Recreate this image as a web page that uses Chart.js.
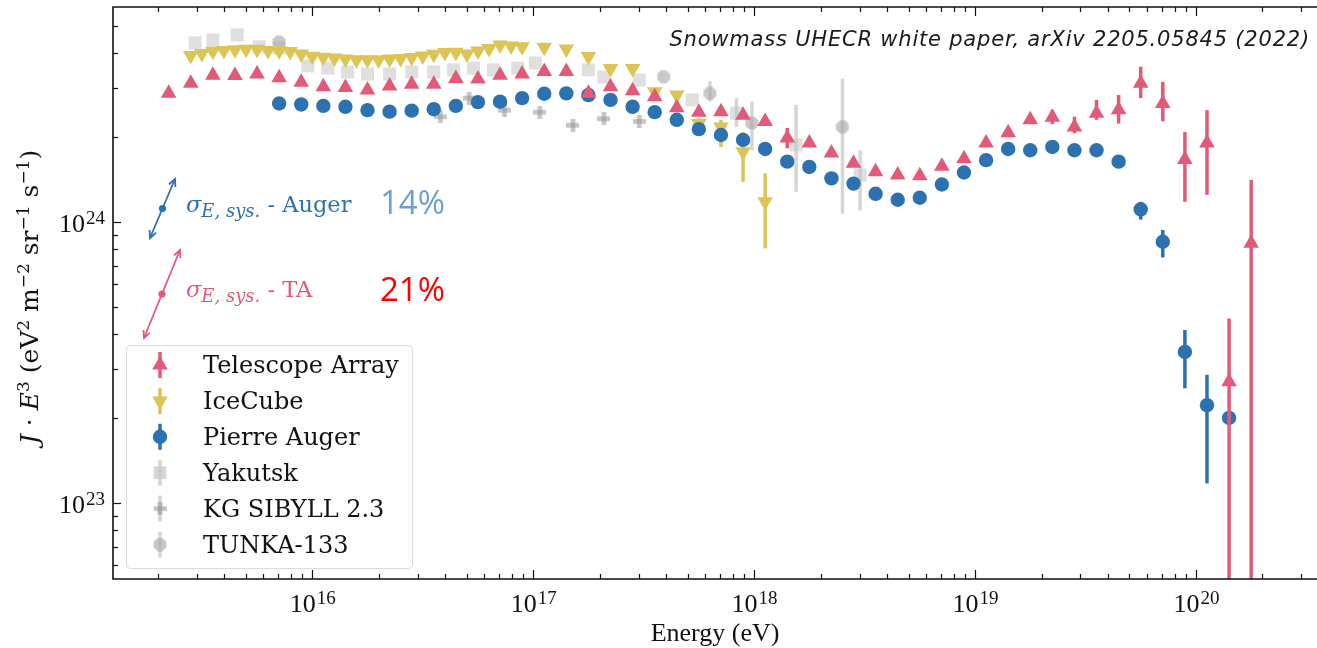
<!DOCTYPE html>
<html>
<head>
<meta charset="utf-8">
<title>UHECR energy spectrum</title>
<script src="https://cdn.jsdelivr.net/npm/chart.js@4.4.1/dist/chart.umd.min.js"></script>
<style>
  html, body { margin: 0; padding: 0; background: #fff; }
  canvas { display: block; }
</style>
</head>
<body>
<canvas id="spectrumChart" width="1317" height="648"></canvas>
<script>
// Energies are log10(E / eV); flux is J*E^3 in units of 1e24 eV^2 m^-2 sr^-1 s^-1

// Telescope Array
const taLogE = [15.35, 15.45, 15.55, 15.65, 15.75, 15.85, 15.95, 16.05, 16.15, 16.25,
                16.35, 16.45, 16.55, 16.65, 16.75, 16.85, 16.95, 17.05, 17.15, 17.25,
                17.35, 17.45, 17.55, 17.65, 17.75, 17.85, 17.95, 18.05, 18.15, 18.25,
                18.35, 18.45, 18.55, 18.65, 18.75, 18.85, 18.95, 19.05, 19.15, 19.25,
                19.35, 19.45, 19.55, 19.65, 19.75, 19.85, 19.95, 20.05, 20.15, 20.25];
const taFlux = [2.87, 3.12, 3.33, 3.32, 3.36, 3.26, 3.14, 3.03, 3.01, 2.95,
                3.05, 3.09, 3.09, 3.24, 3.23, 3.33, 3.36, 3.43, 3.43, 2.87,
                3.03, 2.93, 2.79, 2.55, 2.46, 2.47, 2.40, 2.28, 1.99, 1.91,
                1.76, 1.62, 1.51, 1.47, 1.46, 1.58, 1.68, 1.91, 2.08, 2.31,
                2.36, 2.18, 2.44, 2.51, 3.12, 2.64, 1.67, 1.91, 0.27, 0.84];
const taErrLogE = [18.15, 19.35, 19.45, 19.55, 19.65, 19.75, 19.85, 19.95, 20.05, 20.15, 20.25];
const taErrLo   = [1.83, 2.23, 2.07, 2.31, 2.24, 2.76, 2.28, 1.18, 1.25, 0.01, 0.01];
const taErrHi   = [2.16, 2.50, 2.37, 2.72, 2.83, 3.57, 3.15, 2.09, 2.50, 0.454, 1.41];

// Pierre Auger
const augerLogE = [15.85, 15.95, 16.05, 16.15, 16.25, 16.35, 16.45, 16.55, 16.65, 16.75,
                   16.85, 16.95, 17.05, 17.15, 17.25, 17.35, 17.45, 17.55, 17.65, 17.75,
                   17.85, 17.95, 18.05, 18.15, 18.25, 18.35, 18.45, 18.55, 18.65, 18.75,
                   18.85, 18.95, 19.05, 19.15, 19.25, 19.35, 19.45, 19.55, 19.65, 19.75,
                   19.85, 19.95, 20.05, 20.15];
const augerFlux = [2.64, 2.62, 2.59, 2.57, 2.50, 2.47, 2.49, 2.52, 2.59, 2.67,
                   2.68, 2.76, 2.86, 2.87, 2.83, 2.72, 2.57, 2.46, 2.31, 2.14,
                   2.04, 1.96, 1.82, 1.64, 1.57, 1.43, 1.37, 1.26, 1.20, 1.22,
                   1.36, 1.50, 1.66, 1.82, 1.80, 1.85, 1.80, 1.80, 1.64, 1.11,
                   0.851, 0.345, 0.223, 0.201];
const augerErrLogE = [19.75, 19.85, 19.95, 20.05];
const augerErrLo   = [1.02, 0.748, 0.256, 0.1175];
const augerErrHi   = [1.18, 0.937, 0.413, 0.286];

// IceCube (IceTop)
const iceLogE = [15.45, 15.50, 15.55, 15.60, 15.65, 15.70, 15.75, 15.80, 15.85, 15.90,
                 15.95, 16.00, 16.05, 16.10, 16.15, 16.20, 16.25, 16.30, 16.35, 16.40,
                 16.45, 16.50, 16.55, 16.60, 16.65, 16.70, 16.75, 16.80, 16.85, 16.90,
                 16.95, 17.05, 17.15, 17.25, 17.35, 17.45, 17.55, 17.65, 17.75, 17.85,
                 17.95, 18.05];
const iceFlux = [3.91, 3.98, 4.05, 4.08, 4.10, 4.12, 4.12, 4.08, 4.07, 4.04,
                 3.96, 3.89, 3.86, 3.83, 3.80, 3.78, 3.78, 3.78, 3.80, 3.82,
                 3.85, 3.90, 3.95, 4.01, 4.02, 3.96, 4.06, 4.14, 4.26, 4.23,
                 4.20, 4.19, 4.13, 3.88, 3.52, 3.52, 2.91, 2.83, 2.24, 2.18,
                 1.78, 1.18];
const iceErrLogE = [17.75, 17.85, 17.95, 18.05];
const iceErrLo   = [2.09, 1.85, 1.39, 0.806];
const iceErrHi   = [2.34, 2.31, 2.09, 1.49];

// Yakutsk
const yakLogE = [15.47, 15.55, 15.66, 15.76, 15.85, 15.98, 16.07, 16.16, 16.25, 16.35,
                 16.45, 16.55, 16.64, 16.73, 16.82, 16.93, 17.01, 17.25, 17.32, 17.48,
                 17.72, 17.92, 18.19, 18.48];
const yakFlux = [4.34, 4.44, 4.63, 4.20, 4.16, 3.59, 3.53, 3.42, 3.36, 3.36,
                 3.42, 3.42, 3.48, 3.53, 3.48, 3.53, 3.68, 3.48, 3.28, 3.20,
                 2.72, 2.44, 1.88, 1.47];
const yakErrLogE = [17.92, 18.19, 18.48];
const yakErrLo   = [2.18, 1.28, 1.10];
const yakErrHi   = [2.76, 2.61, 1.80];

// KG SIBYLL 2.3
const kgLogE = [16.58, 16.71, 16.87, 17.03, 17.18, 17.32, 17.48];
const kgFlux = [2.37, 2.76, 2.50, 2.46, 2.21, 2.33, 2.28];

// TUNKA-133
const tunkaLogE = [15.85, 17.59, 17.80, 17.99, 18.40];
const tunkaFlux = [4.37, 3.29, 2.87, 2.25, 2.18];
const tunkaErrLogE = [17.80, 17.99, 18.40];
const tunkaErrLo   = [2.68, 1.80, 1.07];
const tunkaErrHi   = [3.17, 2.68, 3.24];

// axes
const xLogRange = [15.098, 20.548];
const yLogRange = [22.73, 24.765];
const xTickPowers = [16, 17, 18, 19, 20];
const yTickPowers = [23, 24];

const RED = '#e25a78';
const YELLOW = '#dcc455';
const BLUE = '#2d72b0';
const GREY_BAR = 'rgba(200,200,200,0.75)';

const toPoints = (logE, flux) => logE.map((e, i) => ({ x: 10 ** e, y: flux[i] * 1e24 }));
const toErrors = (logE, lo, hi) => logE.map((e, i) => ({ x: 10 ** e, lo: lo[i] * 1e24, hi: hi[i] * 1e24 }));

function markerCanvas(size, draw) {
    const c = document.createElement('canvas');
    c.width = c.height = size;
    draw(c.getContext('2d'), size);
    return c;
}

// filled plus, the overlap makes the centre a bit darker
const plusMarker = markerCanvas(13, (g, s) => {
    g.fillStyle = 'rgba(150,150,150,0.55)';
    g.fillRect(s * 0.32, 0, s * 0.36, s);
    g.fillRect(0, s * 0.32, s, s * 0.36);
});

const octMarker = markerCanvas(14, (g, s) => {
    g.fillStyle = 'rgba(165,165,165,0.6)';
    g.beginPath();
    for (let k = 0; k < 8; k++) {
        const a = Math.PI / 8 + k * Math.PI / 4;
        g.lineTo(s / 2 + s / 2 * Math.cos(a), s / 2 + s / 2 * Math.sin(a));
    }
    g.fill();
});

const series = [
    { label: 'Telescope Array', data: toPoints(taLogE, taFlux), errors: toErrors(taErrLogE, taErrLo, taErrHi),
      errColor: RED, errWidth: 3.5, pointStyle: 'triangle', pointRadius: 9, pointRotation: 0, backgroundColor: RED },
    { label: 'Pierre Auger', data: toPoints(augerLogE, augerFlux), errors: toErrors(augerErrLogE, augerErrLo, augerErrHi),
      errColor: BLUE, errWidth: 3.5, pointStyle: 'circle', pointRadius: 7.2, pointRotation: 0, backgroundColor: BLUE },
    { label: 'IceCube', data: toPoints(iceLogE, iceFlux), errors: toErrors(iceErrLogE, iceErrLo, iceErrHi),
      errColor: YELLOW, errWidth: 3.5, pointStyle: 'triangle', pointRadius: 9, pointRotation: 180, backgroundColor: YELLOW },
    { label: 'TUNKA-133', data: toPoints(tunkaLogE, tunkaFlux), errors: toErrors(tunkaErrLogE, tunkaErrLo, tunkaErrHi),
      errColor: GREY_BAR, errWidth: 3.5, pointStyle: octMarker, pointRadius: 7, pointRotation: 0, backgroundColor: '#bbb' },
    { label: 'KG SIBYLL 2.3', data: toPoints(kgLogE, kgFlux), errors: [],
      errColor: GREY_BAR, errWidth: 3.5, pointStyle: plusMarker, pointRadius: 7, pointRotation: 0, backgroundColor: '#bbb' },
    { label: 'Yakutsk', data: toPoints(yakLogE, yakFlux), errors: toErrors(yakErrLogE, yakErrLo, yakErrHi),
      errColor: GREY_BAR, errWidth: 3.5, pointStyle: 'rect', pointRadius: 9.2, pointRotation: 0, backgroundColor: 'rgba(196,196,196,0.55)' }
];

// legend entries in display order
const legendItems = [
    { label: 'Telescope Array', color: RED, style: 'triangle', radius: 9, rotation: 0, bar: RED },
    { label: 'IceCube', color: YELLOW, style: 'triangle', radius: 9, rotation: 180, bar: YELLOW },
    { label: 'Pierre Auger', color: BLUE, style: 'circle', radius: 7.2, rotation: 0, bar: BLUE },
    { label: 'Yakutsk', color: 'rgba(196,196,196,0.7)', style: 'rect', radius: 9, rotation: 0, bar: GREY_BAR },
    { label: 'KG SIBYLL 2.3', color: '#bbb', style: plusMarker, radius: 7, rotation: 0, bar: GREY_BAR },
    { label: 'TUNKA-133', color: '#bbb', style: octMarker, radius: 7, rotation: 0, bar: GREY_BAR }
];

// vertical error bars, drawn just under each series' markers
const errorBars = {
    id: 'errorBars',
    beforeDatasetDraw(chart, args) {
        const ds = chart.data.datasets[args.index];
        if (!ds.errors || !ds.errors.length) return;
        const { ctx, chartArea: a, scales: { x, y } } = chart;
        ctx.save();
        ctx.beginPath();
        ctx.rect(a.left, a.top, a.right - a.left, a.bottom - a.top);
        ctx.clip();
        ctx.strokeStyle = ds.errColor;
        ctx.lineWidth = ds.errWidth;
        ds.errors.forEach(e => {
            const px = x.getPixelForValue(e.x);
            ctx.beginPath();
            ctx.moveTo(px, y.getPixelForValue(e.lo));
            ctx.lineTo(px, y.getPixelForValue(e.hi));
            ctx.stroke();
        });
        ctx.restore();
    }
};

// draws a run of text pieces: [text, kind] where kind is '', 'i', 'sup', 'isub'
function richText(ctx, parts, x, y, size, family, align, small = 0.68) {
    const fontOf = kind => {
        const isSmall = kind === 'sup' || kind === 'isub';
        const italic = kind === 'i' || kind === 'isub';
        return `${italic ? 'italic ' : ''}${isSmall ? Math.round(size * small) : size}px ${family}`;
    };
    const widths = parts.map(([t, k]) => { ctx.font = fontOf(k); return ctx.measureText(t).width; });
    const total = widths.reduce((s, w) => s + w, 0);
    let cx = align === 'center' ? x - total / 2 : align === 'right' ? x - total : x;
    ctx.textAlign = 'left';
    ctx.textBaseline = 'alphabetic';
    parts.forEach(([t, k], i) => {
        ctx.font = fontOf(k);
        let dy = 0;
        if (k === 'sup') dy = -size * 0.38;
        if (k === 'isub') dy = size * 0.22;
        ctx.fillText(t, cx, y + dy);
        cx += widths[i];
    });
    return total;
}

function powerLabel(ctx, p, x, y, align) {
    ctx.font = '26px "Liberation Serif"';
    const wb = ctx.measureText('10').width;
    ctx.font = '19px "Liberation Serif"';
    const we = ctx.measureText(String(p)).width;
    const left = align === 'right' ? x - wb - we : x - (wb + we) / 2;
    ctx.textAlign = 'left';
    ctx.textBaseline = 'alphabetic';
    ctx.fillStyle = '#111';
    ctx.font = '26px "Liberation Serif"';
    ctx.fillText('10', left, y);
    ctx.font = '19px "Liberation Serif"';
    ctx.fillText(String(p), left + wb + 1, y - 8);
}

function doubleArrow(ctx, x1, y1, x2, y2, color) {
    ctx.strokeStyle = color;
    ctx.fillStyle = color;
    ctx.lineWidth = 1.8;
    ctx.beginPath();
    ctx.moveTo(x1, y1);
    ctx.lineTo(x2, y2);
    ctx.stroke();
    const ang = Math.atan2(y2 - y1, x2 - x1);
    [[x2, y2, ang], [x1, y1, ang + Math.PI]].forEach(([hx, hy, a]) => {
        ctx.beginPath();
        ctx.moveTo(hx - 8 * Math.cos(a - 0.45), hy - 8 * Math.sin(a - 0.45));
        ctx.lineTo(hx, hy);
        ctx.lineTo(hx - 8 * Math.cos(a + 0.45), hy - 8 * Math.sin(a + 0.45));
        ctx.stroke();
    });
    ctx.beginPath();
    ctx.arc((x1 + x2) / 2, (y1 + y2) / 2, 3.6, 0, Math.PI * 2);
    ctx.fill();
}

const frame = {
    id: 'frame',
    afterDraw(chart) {
        const { ctx, chartArea: a, scales: { x, y } } = chart;
        const right = chart.width;
        ctx.save();

        // minor and major ticks, pointing inwards
        ctx.strokeStyle = '#111';
        ctx.lineWidth = 1.2;
        for (let p = 15; p <= 20; p++) {
            for (let m = 1; m <= 9; m++) {
                const px = Math.round(x.getPixelForValue(m * 10 ** p)) + 0.5;
                if (px < a.left + 2 || px > right) continue;
                const len = m === 1 ? 9 : 5;
                ctx.beginPath();
                ctx.moveTo(px, a.bottom); ctx.lineTo(px, a.bottom - len);
                ctx.moveTo(px, a.top); ctx.lineTo(px, a.top + len);
                ctx.stroke();
            }
        }
        for (let p = 22; p <= 24; p++) {
            for (let m = 1; m <= 9; m++) {
                const py = Math.round(y.getPixelForValue(m * 10 ** p)) + 0.5;
                if (py < a.top + 2 || py > a.bottom - 2) continue;
                const len = m === 1 ? 8 : 5;
                ctx.beginPath();
                ctx.moveTo(a.left, py); ctx.lineTo(a.left + len, py);
                ctx.stroke();
            }
        }

        // spines: left, top and bottom
        ctx.lineWidth = 1.6;
        ctx.beginPath();
        ctx.moveTo(right, a.top);
        ctx.lineTo(a.left, a.top);
        ctx.lineTo(a.left, a.bottom);
        ctx.lineTo(right, a.bottom);
        ctx.stroke();

        xTickPowers.forEach(p => powerLabel(ctx, p, x.getPixelForValue(10 ** p), a.bottom + 33, 'center'));
        yTickPowers.forEach(p => powerLabel(ctx, p, a.left - 9, y.getPixelForValue(10 ** p) + 10, 'right'));

        // axis titles
        ctx.fillStyle = '#111';
        ctx.font = '26px "Liberation Serif"';
        ctx.textAlign = 'center';
        ctx.fillText('Energy (eV)', 715, 641);

        ctx.save();
        ctx.translate(38, 297);
        ctx.rotate(-Math.PI / 2);
        richText(ctx, [['J', 'i'], [' · ', ''], ['E', 'i'], ['3', 'sup'], [' (eV', ''], ['2', 'sup'],
                       [' m', ''], ['−2', 'sup'], [' sr', ''], ['−1', 'sup'], [' s', ''], ['−1', 'sup'], [')', '']],
                 0, 0, 25, '"DejaVu Serif"', 'center');
        ctx.restore();

        // citation
        ctx.fillStyle = '#1a1a1a';
        ctx.font = 'italic 21px "DejaVu Sans"';
        ctx.letterSpacing = '0.8px';
        ctx.textAlign = 'right';
        ctx.fillText('Snowmass UHECR white paper, arXiv 2205.05845 (2022)', 1310, 46);
        ctx.letterSpacing = '0px';

        // energy-scale systematics
        doubleArrow(ctx, 150, 238, 175, 179, BLUE);
        doubleArrow(ctx, 144, 338, 180, 250, RED);
        ctx.fillStyle = BLUE;
        richText(ctx, [['σ', 'i'], ['E, sys.', 'isub'], [' - Auger', '']], 186, 212, 22.5, '"DejaVu Serif"', 'left', 0.78);
        ctx.fillStyle = RED;
        richText(ctx, [['σ', 'i'], ['E, sys.', 'isub'], [' - TA', '']], 186, 297, 22.5, '"DejaVu Serif"', 'left', 0.78);

        ctx.font = '33px "Open Sans"';
        ctx.textAlign = 'left';
        ctx.fillStyle = '#6c9fd3';
        ctx.fillText('14%', 380, 214);
        ctx.fillStyle = '#ff0000';
        ctx.fillText('21%', 380, 301);

        // legend box
        ctx.beginPath();
        ctx.roundRect(126.5, 345.5, 286, 223, 4);
        ctx.fillStyle = 'rgba(255,255,255,0.85)';
        ctx.fill();
        ctx.strokeStyle = '#dadada';
        ctx.lineWidth = 1;
        ctx.stroke();

        legendItems.forEach((item, i) => {
            const base = 373 + i * 35.9;
            const cy = base - 8;
            ctx.strokeStyle = item.bar;
            ctx.lineWidth = 3.5;
            ctx.beginPath();
            ctx.moveTo(160, cy - 13);
            ctx.lineTo(160, cy + 13);
            ctx.stroke();
            ctx.fillStyle = item.color;
            Chart.helpers.drawPoint(ctx, { pointStyle: item.style, radius: item.radius, rotation: item.rotation, borderWidth: 0 }, 160, cy);
            ctx.fillStyle = '#111';
            ctx.font = '24px "DejaVu Serif"';
            ctx.textAlign = 'left';
            ctx.fillText(item.label, 203, base);
        });

        ctx.restore();
    }
};

new Chart(document.getElementById('spectrumChart'), {
    type: 'scatter',
    data: {
        datasets: series.map(s => ({
            ...s,
            pointBorderWidth: 0,
            pointHoverRadius: s.pointRadius,
            borderColor: s.backgroundColor
        }))
    },
    options: {
        responsive: false,
        animation: false,
        events: [],
        layout: { autoPadding: false, padding: { left: 113, top: 7, right: 0, bottom: 69 } },
        plugins: { legend: { display: false }, tooltip: { enabled: false } },
        scales: {
            x: { type: 'logarithmic', display: false, min: 10 ** xLogRange[0], max: 10 ** xLogRange[1] },
            y: { type: 'logarithmic', display: false, min: 10 ** yLogRange[0], max: 10 ** yLogRange[1] }
        }
    },
    plugins: [errorBars, frame]
});
</script>
</body>
</html>
